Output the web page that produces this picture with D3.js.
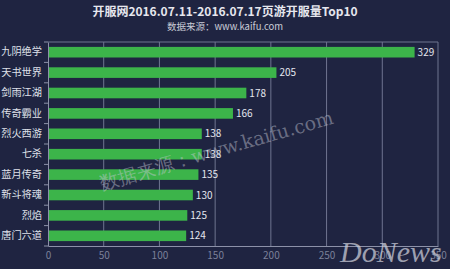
<!DOCTYPE html>
<html><head><meta charset="utf-8">
<script src="https://cdn.jsdelivr.net/npm/d3@7"></script>
<style>body{margin:0;background:#1f2441;}svg{display:block}</style>
</head><body>
<script>
const categories = ["九阴绝学","天书世界","剑雨江湖","传奇霸业","烈火西游","七杀","蓝月传奇","新斗将魂","烈焰","唐门六道"];
const values = [329,205,178,166,138,138,135,130,125,124];
const xTicks = [0,50,100,150,200,250,300,350];
const title = "开服网2016.07.11-2016.07.17页游开服量Top10";
const subtitle = "数据来源：www.kaifu.com";

const W=450,H=269;
const m={l:48,r:12,t:42,b:23};
const svg=d3.select("body").append("svg").attr("width",W).attr("height",H);
svg.append("rect").attr("width",W).attr("height",H).attr("fill","#1f2441");
const font="'Noto Sans CJK SC','Noto Sans',sans-serif";
const x=d3.scaleLinear().domain([0,350]).range([m.l,W-m.r]);
const y=d3.scaleBand().domain(categories).range([m.t,H-m.b]).paddingInner(0.48).paddingOuter(0.24);
const yb=d3.scaleBand().domain(categories).range([m.t,H-m.b]);

// grid
svg.append("g").selectAll("line").data(xTicks.slice(1)).join("line")
 .attr("x1",d=>x(d)).attr("x2",d=>x(d)).attr("y1",m.t).attr("y2",H-m.b)
 .attr("stroke","#6f7590").attr("stroke-width",1);
svg.append("line").attr("x1",m.l).attr("x2",x(350)).attr("y1",m.t).attr("y2",m.t).attr("stroke","#6f7590");

// bars
svg.append("g").selectAll("rect").data(values).join("rect")
 .attr("x",x(0)).attr("y",(d,i)=>y(categories[i])).attr("width",d=>x(d)-x(0)).attr("height",y.bandwidth())
 .attr("fill","#3cb44a");
svg.append("g").selectAll("text").data(values).join("text")
 .attr("x",d=>x(d)+3).attr("y",(d,i)=>y(categories[i])+y.bandwidth()/2+3.5)
 .attr("fill","#e4e6ee").attr("font-size",10).attr("font-family",font).text(d=>d);

// x axis
const xa=svg.append("g").attr("transform",`translate(0,${H-m.b})`)
 .call(d3.axisBottom(x).tickValues(xTicks).tickSize(0).tickPadding(6));
xa.select(".domain").attr("stroke","#8c91a8");
xa.selectAll("text").attr("fill","#7b8099").attr("font-size",10).attr("font-family",font);

// y axis
const ya=svg.append("g").attr("transform",`translate(${m.l},0)`)
 .call(d3.axisLeft(yb).tickSize(0).tickPadding(6));
ya.select(".domain").attr("stroke","#8c91a8");
ya.selectAll("text").attr("fill","#dfe1ea").attr("font-size",10.2).attr("font-family",font);
// tick marks between categories
svg.append("g").selectAll("line").data(d3.range(categories.length+1)).join("line")
 .attr("x1",m.l-4).attr("x2",m.l).attr("y1",i=>m.t+i*yb.step()).attr("y2",i=>m.t+i*yb.step())
 .attr("stroke","#8c91a8");

// title
svg.append("text").attr("x",W/2).attr("y",16).attr("text-anchor","middle")
 .attr("fill","#e6e7ee").attr("font-size",12).attr("font-weight","bold").attr("font-family",font).text(title);
svg.append("text").attr("x",W/2).attr("y",30).attr("text-anchor","middle")
 .attr("fill","#c9cbd6").attr("font-size",9.5).attr("font-family",font).text(subtitle);

// watermarks
svg.append("text").attr("transform","translate(102,190) rotate(-16)")
 .attr("fill","#c8cad6").attr("fill-opacity",0.45).attr("font-size",19).attr("font-family","'DejaVu Serif','Liberation Serif',serif")
 .text("数据来源：www.kaifu.com");
svg.append("text").attr("x",340).attr("y",262)
 .attr("fill","#c8cad6").attr("fill-opacity",0.75).attr("font-size",30).attr("font-style","italic").attr("font-family","'Liberation Serif',serif")
 .text("DoNews");
</script>
</body></html>
